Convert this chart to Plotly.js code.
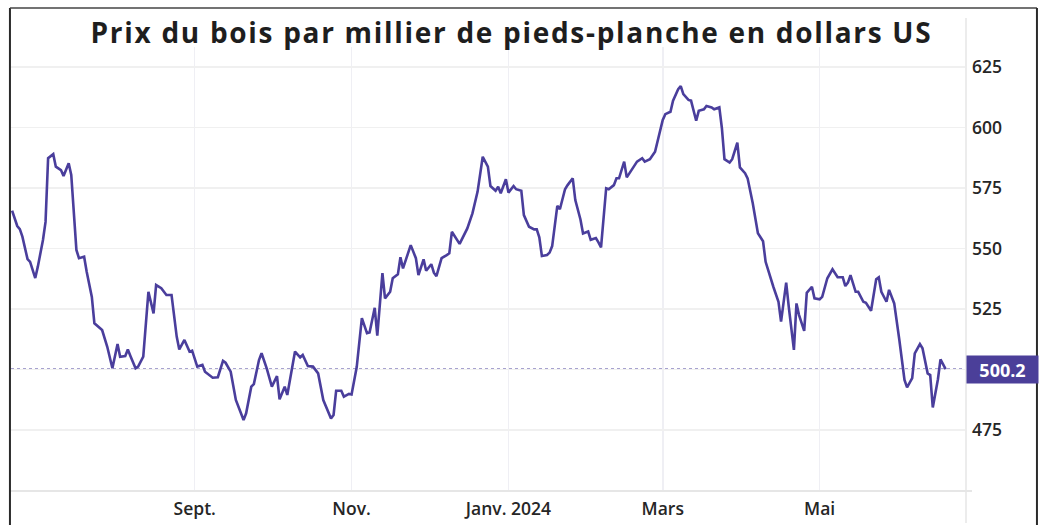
<!DOCTYPE html>
<html><head><meta charset="utf-8">
<script src="https://cdn.plot.ly/plotly-3.0.1.min.js"></script>
<style>html,body{margin:0;padding:0;background:#fff;} #chart{width:1040px;height:525px;} .gtitle{letter-spacing:1.7px;}</style>
</head><body><div id="chart"></div>
<script>
const dates = [
'2023-06-22','2023-06-23','2023-06-24','2023-06-25','2023-06-26','2023-06-28','2023-06-29','2023-07-01','2023-07-02','2023-07-04',
'2023-07-05','2023-07-06','2023-07-08','2023-07-09','2023-07-11','2023-07-12','2023-07-14','2023-07-15','2023-07-17','2023-07-18',
'2023-07-20','2023-07-21','2023-07-23','2023-07-24','2023-07-26','2023-07-27','2023-07-29','2023-07-31','2023-08-02','2023-08-03',
'2023-08-05','2023-08-06','2023-08-07','2023-08-09','2023-08-10','2023-08-12','2023-08-14','2023-08-16','2023-08-17','2023-08-19',
'2023-08-21','2023-08-23','2023-08-25','2023-08-26','2023-08-28','2023-08-30','2023-08-31','2023-09-02','2023-09-04','2023-09-05',
'2023-09-08','2023-09-10','2023-09-12','2023-09-13','2023-09-15','2023-09-17','2023-09-20','2023-09-21','2023-09-23','2023-09-24',
'2023-09-26','2023-09-27','2023-09-29','2023-10-01','2023-10-03','2023-10-04','2023-10-06','2023-10-07','2023-10-10','2023-10-12',
'2023-10-13','2023-10-15','2023-10-17','2023-10-19','2023-10-21','2023-10-24','2023-10-25','2023-10-26','2023-10-28','2023-10-29',
'2023-10-31','2023-11-01','2023-11-03','2023-11-05','2023-11-07','2023-11-08','2023-11-10','2023-11-11','2023-11-13','2023-11-14',
'2023-11-16','2023-11-17','2023-11-19','2023-11-20','2023-11-21','2023-11-24','2023-11-26','2023-11-27','2023-11-29','2023-11-30',
'2023-12-02','2023-12-03','2023-12-04','2023-12-06','2023-12-08','2023-12-09','2023-12-10','2023-12-12','2023-12-13','2023-12-16',
'2023-12-18','2023-12-20','2023-12-22','2023-12-24','2023-12-25','2023-12-27','2023-12-28','2023-12-29','2023-12-31','2024-01-01',
'2024-01-03','2024-01-04','2024-01-06','2024-01-07','2024-01-09','2024-01-11','2024-01-12','2024-01-13','2024-01-14','2024-01-16',
'2024-01-17','2024-01-18','2024-01-20','2024-01-21','2024-01-23','2024-01-24','2024-01-26','2024-01-27','2024-01-29','2024-01-30',
'2024-02-01','2024-02-02','2024-02-04','2024-02-05','2024-02-06','2024-02-08','2024-02-09','2024-02-11','2024-02-12','2024-02-13',
'2024-02-15','2024-02-16','2024-02-18','2024-02-20','2024-02-22','2024-02-23','2024-02-25','2024-02-27','2024-03-01','2024-03-02',
'2024-03-04','2024-03-05','2024-03-07','2024-03-08','2024-03-09','2024-03-11','2024-03-12','2024-03-14','2024-03-15','2024-03-17',
'2024-03-18','2024-03-20','2024-03-21','2024-03-23','2024-03-24','2024-03-25','2024-03-27','2024-03-28','2024-03-30','2024-03-31',
'2024-04-02','2024-04-03','2024-04-05','2024-04-07','2024-04-09','2024-04-10','2024-04-13','2024-04-15','2024-04-16','2024-04-18',
'2024-04-19','2024-04-21','2024-04-22','2024-04-23','2024-04-25','2024-04-26','2024-04-28','2024-04-29','2024-05-01','2024-05-02',
'2024-05-04','2024-05-06','2024-05-08','2024-05-10','2024-05-11','2024-05-12','2024-05-13','2024-05-15','2024-05-16','2024-05-18',
'2024-05-19','2024-05-21','2024-05-23','2024-05-24','2024-05-25','2024-05-27','2024-05-28','2024-05-30','2024-06-01','2024-06-03',
'2024-06-04','2024-06-06','2024-06-07','2024-06-09','2024-06-10','2024-06-12','2024-06-13','2024-06-14','2024-06-16','2024-06-17',
'2024-06-19'
];
const prices = [
565.6,562.6,559.3,558.0,554.9,545.6,544.5,537.8,542.5,553.5,
561.0,587.3,589.0,583.8,582.4,580.0,585.2,580.4,549.4,546.0,
546.6,540.4,530.0,519.1,517.4,516.3,509.4,500.5,510.5,505.3,
505.6,508.3,505.6,500.5,501.2,505.3,532.1,523.2,534.9,533.6,
530.8,530.8,513.6,508.3,512.2,507.4,507.8,501.2,501.9,499.1,
496.6,496.8,503.6,502.8,499.1,487.4,479.1,481.9,492.9,494.0,
503.9,506.7,500.5,492.9,497.3,487.7,492.9,489.5,507.4,505.0,
506.0,501.4,501.2,498.4,487.4,479.8,481.2,491.2,491.2,488.8,
489.9,489.7,501.0,521.2,515.0,515.3,525.5,514.0,539.8,529.4,
532.1,537.7,539.3,546.4,541.8,551.4,546.0,539.0,545.5,540.8,
543.5,540.0,538.6,546.0,547.3,548.0,556.9,553.8,551.9,558.3,
564.5,573.5,587.9,583.8,575.8,573.9,575.5,572.8,578.6,573.1,
575.8,574.5,573.9,563.8,559.0,557.9,557.9,554.6,546.9,547.3,
548.3,551.0,567.6,566.2,574.5,576.2,579.0,570.0,562.0,556.2,
557.0,553.6,554.3,552.5,550.5,574.9,574.5,576.2,579.0,579.0,
585.9,579.4,582.7,585.9,587.3,585.9,586.9,590.0,603.1,605.5,
606.5,611.1,615.8,617.1,613.8,611.4,611.1,602.8,606.9,607.5,
608.9,608.3,607.5,608.3,599.7,586.9,585.5,586.9,593.7,583.5,
581.1,579.0,568.7,556.3,553.0,544.5,534.2,528.0,519.8,535.9,
525.9,508.1,527.3,522.5,516.0,531.7,534.2,529.4,529.0,530.0,
537.7,541.4,538.1,538.1,534.5,535.9,539.0,532.1,532.1,528.0,
527.6,524.3,537.3,538.1,532.1,528.0,532.9,527.3,512.2,495.7,
492.6,496.4,506.7,510.5,508.8,498.4,497.7,484.3,496.0,504.2,
500.2
];
const tickDates = ['2023-09-01','2023-11-01','2024-01-01','2024-03-01','2024-05-01'];
const tickLabels = ['Sept.','Nov.','Janv. 2024','Mars','Mai'];
const yTicks = [475,500,525,550,575,600,625];
const yTickLabels = ['475','','525','550','575','600','625'];
const titleText = 'Prix du bois par millier de pieds-planche en dollars US';

const lineColor = '#4a3e9c';
const lastValue = prices[prices.length - 1];

const trace = {
  x: dates, y: prices, type: 'scatter', mode: 'lines',
  line: {color: lineColor, width: 2.6, shape: 'linear'},
  hoverinfo: 'skip'
};

const frameColor = '#2a2a2a';
const tickFont = {family: 'Open Sans, sans-serif', size: 17.5, weight: 600, color: '#262626'};
const layout = {
  width: 1040, height: 525,
  margin: {l: 11, r: 74, t: 47, b: 34, pad: 0},
  paper_bgcolor: '#ffffff', plot_bgcolor: '#ffffff',
  showlegend: false,
  title: {
    text: titleText,
    font: {family: 'Open Sans, sans-serif', size: 28, weight: 700, color: '#1e1e1e'},
    x: 0.4918, xanchor: 'center', xref: 'container',
    y: 0.937, yanchor: 'middle', yref: 'container'
  },
  xaxis: {
    type: 'date',
    range: ['2023-06-21 13:40', '2024-06-26 22:00'],
    tickvals: tickDates, ticktext: tickLabels,
    tickfont: tickFont,
    showgrid: true, gridcolor: '#efeff4', gridwidth: 1.5,
    zeroline: false, showline: false, ticks: '', ticklabelstandoff: 5
  },
  yaxis: {
    side: 'right',
    range: [449.8, 633.26],
    tickvals: yTicks, ticktext: yTickLabels,
    tickfont: tickFont,
    showgrid: true, gridcolor: '#f0f0f0', gridwidth: 1.5,
    zeroline: false, showline: false, ticks: '', ticklabelstandoff: 5
  },
  shapes: [
    {type: 'line', xref: 'paper', yref: 'y', x0: 0, x1: 1, y0: lastValue, y1: lastValue,
     line: {color: lineColor, width: 1, dash: 'dot'}, layer: 'below'},
    {type: 'line', xref: 'paper', yref: 'paper', x0: 1, x1: 1, y0: -0.0721, y1: 1.0653,
     line: {color: '#ececec', width: 2}},
    {type: 'line', xref: 'paper', yref: 'paper', x0: -0.001, x1: 1.0063, y0: 0, y1: 0,
     line: {color: '#e6e6e6', width: 2}},
    {type: 'line', xref: 'paper', yref: 'paper', x0: -0.0011, x1: -0.0011, y0: -0.08, y1: 1.0878,
     line: {color: frameColor, width: 2}},
    {type: 'line', xref: 'paper', yref: 'paper', x0: -0.0011, x1: 1.0743, y0: 1.0878, y1: 1.0878,
     line: {color: '#444', width: 1.5}},
    {type: 'line', xref: 'paper', yref: 'paper', x0: 1.0743, x1: 1.0743, y0: -0.08, y1: 1.0878,
     line: {color: frameColor, width: 2}}
  ],
  annotations: [
    {xref: 'paper', yref: 'y', x: 1, y: lastValue, xanchor: 'left', yanchor: 'middle',
     text: lastValue.toFixed(1), showarrow: false, bgcolor: '#4b3f99',
     font: {family: 'Open Sans, sans-serif', size: 18, weight: 700, color: '#ffffff'},
     width: 71, height: 27, borderpad: 0, align: 'center', valign: 'middle'}
  ]
};

Plotly.newPlot('chart', [trace], layout, {staticPlot: true, displayModeBar: false});
</script>
</body></html>
